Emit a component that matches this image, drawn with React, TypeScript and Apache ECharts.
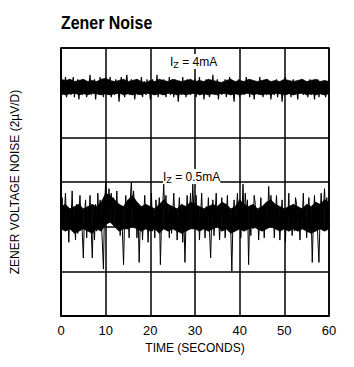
import React, { useEffect, useRef } from "react";
import * as echarts from "echarts";

const FONT = "'Liberation Sans', Arial, Helvetica, sans-serif";

const xTicks = [0, 10, 20, 30, 40, 50, 60];
const durationSec = 60;

// IZ = 4mA trace (µV, arbitrary offset), sampled every 0.25 s
const noise4mA = [
  10.6,9.9,10.5,10.0,10.7,9.8,10.4,10.1,10.6,9.9,10.3,10.7,9.8,10.4,10.0,10.6,9.7,10.3,10.5,9.9,10.6,10.1,10.4,9.8,
  10.5,10.2,10.8,9.9,10.4,10.0,10.6,9.7,10.3,10.5,9.9,10.7,10.1,10.4,9.8,10.5,10.0,10.6,9.9,10.3,10.7,9.8,10.2,10.5,
  9.9,10.6,10.1,10.4,9.6,10.3,10.7,10.0,10.5,9.8,10.4,10.8,10.0,10.3,9.9,10.6,10.1,10.5,9.7,10.2,10.6,9.9,10.4,10.0,
  10.7,9.8,10.3,10.5,9.9,10.6,10.0,10.4,9.7,10.2,10.6,9.9,10.5,10.1,10.8,9.8,10.3,10.0,10.5,9.9,10.6,10.2,9.8,10.4,
  10.0,10.7,9.9,10.3,10.5,9.8,10.6,10.1,10.4,9.6,10.2,10.5,9.9,10.7,10.0,10.3,9.8,10.6,10.1,10.4,9.9,10.5,10.0,10.3,
  10.6,9.8,10.4,10.0,10.7,9.9,10.2,10.5,9.7,10.3,10.6,10.0,10.4,9.8,10.5,10.1,10.8,9.9,10.3,10.0,10.6,9.7,10.4,10.2,
  9.9,10.5,10.1,10.6,9.8,10.3,10.0,10.7,9.9,10.4,10.2,9.6,10.5,10.0,10.3,10.6,9.8,10.4,10.1,10.5,9.9,10.3,10.7,10.0,
  10.4,9.8,10.6,10.0,10.3,9.7,10.5,10.1,10.4,9.9,10.7,10.0,10.3,9.8,10.5,10.2,9.9,10.6,10.0,10.4,9.7,10.3,10.5,9.9,
  10.2,10.6,9.8,10.4,10.0,10.5,9.6,10.3,10.1,10.7,9.9,10.4,10.0,10.5,9.8,10.3,10.6,9.9,10.2,10.4,9.7,10.5,10.0,10.3,
  10.6,9.9,10.4,10.0,10.5,9.8,10.3,10.6,9.9,10.2,10.5,9.7,10.4,10.0,10.6,9.8,10.3,10.5,9.9,10.4,10.1,9.8,10.5,10.2,10.0,
];

// IZ = 4mA dense-core envelope, one value per second (0..60 s)
const core4mATop = [
  10.6,10.55,10.6,10.5,10.55,10.6,10.5,10.55,10.5,10.6,
  10.65,10.55,10.5,10.55,10.6,10.5,10.55,10.6,10.5,10.45,
  10.55,10.5,10.6,10.55,10.5,10.6,10.55,10.5,10.55,10.6,
  10.5,10.55,10.5,10.6,10.55,10.5,10.45,10.55,10.6,10.5,
  10.55,10.5,10.6,10.55,10.5,10.55,10.6,10.5,10.55,10.5,
  10.6,10.55,10.5,10.55,10.6,10.5,10.55,10.6,10.5,10.55,
  10.5,
];
const core4mABottom = [
  9.95,9.9,9.95,10.0,9.9,9.95,9.9,10.0,9.95,9.9,
  9.95,9.9,9.95,10.0,9.9,9.95,9.9,9.95,9.9,10.0,
  9.95,9.9,9.95,9.9,10.0,9.95,9.9,9.95,9.9,9.95,
  10.0,9.9,9.95,9.9,9.95,9.9,10.0,9.95,9.9,9.95,
  9.9,9.95,10.0,9.9,9.95,9.9,9.95,9.9,10.0,9.95,
  9.9,9.95,9.9,9.95,10.0,9.9,9.95,9.9,9.95,9.9,
  9.95,
];

// IZ = 0.5mA trace (µV, arbitrary offset), sampled every 0.25 s
const noise05mA = [
  4.2,5.3,3.9,4.6,5.5,4.0,4.7,3.3,4.8,4.3,5.6,3.9,4.5,3.4,5.0,3.7,4.6,5.4,4.3,3.8,2.6,4.5,5.2,3.5,
  4.7,4.2,5.4,3.9,2.6,4.6,3.4,5.0,3.8,5.5,4.1,5.2,4.4,3.3,2.1,4.9,6.0,5.3,4.6,5.7,4.8,5.5,4.2,5.3,
  5.0,4.5,5.6,4.3,4.8,3.6,4.6,3.8,2.3,4.4,5.4,4.1,4.7,3.5,5.2,6.0,4.8,5.6,4.5,4.9,3.5,4.6,2.4,4.2,
  4.8,3.4,4.5,5.4,4.2,4.7,3.3,4.9,4.3,5.5,3.8,4.6,3.5,5.2,4.4,3.9,5.3,2.3,4.2,4.8,5.9,4.6,5.4,4.1,
  4.6,3.5,4.9,3.7,4.5,5.5,4.2,4.8,3.4,4.4,5.3,4.1,4.7,3.3,4.5,2.4,4.3,5.4,4.0,4.6,5.5,4.2,5.9,4.7,
  4.4,5.4,4.1,4.8,3.4,4.5,5.5,4.0,4.6,3.5,4.9,4.3,5.3,3.8,2.6,4.4,5.2,3.6,4.6,5.5,4.2,4.7,3.4,4.5,
  5.3,4.1,4.7,3.5,4.4,5.4,4.0,4.6,3.9,2.0,4.3,5.2,4.1,4.6,5.5,4.4,4.8,3.5,4.6,5.9,4.2,5.5,4.7,5.2,
  2.3,4.5,3.6,4.8,3.9,5.4,5.0,4.2,4.7,3.4,4.5,5.3,4.0,4.6,3.5,4.9,3.9,4.4,5.8,4.6,5.4,4.2,4.8,3.5,
  4.5,5.4,4.1,4.7,3.4,4.4,5.2,4.0,4.6,3.3,4.8,4.2,5.5,3.9,4.5,3.6,4.8,3.8,5.3,5.0,4.2,4.7,3.4,4.6,
  4.3,5.5,4.0,4.7,3.5,4.5,5.3,4.1,4.6,2.4,4.3,5.4,4.1,4.7,3.5,2.4,4.5,5.5,4.2,4.8,5.7,4.4,5.3,4.3,4.7,
];

// IZ = 0.5mA dense-core envelope, one value per second (0..60 s)
const core05mATop = [
  4.9,5.0,4.8,4.9,5.0,4.8,4.9,5.0,4.9,5.1,
  5.5,5.4,5.2,5.0,4.9,5.2,5.4,5.1,4.9,5.0,
  4.9,4.8,5.0,5.2,5.0,4.9,4.8,5.0,4.9,5.1,
  5.0,4.9,4.8,4.9,5.0,4.9,5.1,5.0,4.8,4.9,
  5.2,5.0,4.9,5.0,4.8,4.9,5.1,5.2,5.0,4.9,
  4.8,4.9,5.0,4.9,4.8,5.0,4.9,5.1,5.0,5.2,
  5.1,
];
const core05mABottom = [
  3.9,3.8,3.9,3.7,3.8,3.9,3.8,3.7,3.9,3.8,
  4.1,4.2,4.0,3.8,3.9,3.9,4.0,3.9,3.8,3.9,
  3.8,3.9,3.7,3.9,3.8,3.9,3.8,3.7,3.8,3.9,
  3.9,3.8,3.9,3.8,3.9,4.0,3.8,3.9,3.7,3.8,
  3.9,3.8,3.9,4.0,3.9,3.8,3.9,4.0,3.9,3.8,
  3.9,3.8,3.9,3.8,3.9,3.8,3.7,3.8,3.9,3.8,
  3.9,
];

const toPairs = (vals: number[]) => {
  const step = durationSec / (vals.length - 1);
  return vals.map((v, i) => [i * step, v]);
};

const bandSeries = (name: string, bottom: number[], top: number[]) => {
  const step = durationSec / (bottom.length - 1);
  const data = bottom.map((b, i) => [i * step, b, top[i]]);
  return {
    type: "custom",
    name,
    data,
    encode: { x: 0, y: [1, 2] },
    silent: true,
    z: 2,
    renderItem: (params: any, api: any) => {
      const i = params.dataIndex;
      if (i >= data.length - 1) return { type: "group", children: [] };
      const nx = data[i + 1];
      const t0 = api.value(0);
      const pts = [
        api.coord([t0, api.value(1)]),
        api.coord([t0, api.value(2)]),
        api.coord([nx[0], nx[2]]),
        api.coord([nx[0], nx[1]]),
      ];
      return {
        type: "polygon",
        shape: { points: pts },
        style: { fill: "#000", stroke: "#000", lineWidth: 0.6 },
      };
    },
  };
};

export default function App() {
  const ref = useRef<HTMLDivElement>(null);
  useEffect(() => {
    if (!ref.current) return;
    const chart = echarts.init(ref.current, undefined, { renderer: "svg" });
    const lineStyle = { color: "#000", width: 1.5 };
    const labelRich = {
      m: { fontSize: 12, fontFamily: FONT, color: "#000" },
      s: { fontSize: 9, fontFamily: FONT, color: "#000", padding: [6, 0, 0, 0] },
    };
    chart.setOption({
      animation: false,
      backgroundColor: "#fff",
      grid: {
        left: 61, top: 48, right: 25, bottom: 51,
        show: true, borderColor: "#000", borderWidth: 1.5,
      },
      xAxis: {
        type: "value",
        min: 0, max: 60, interval: 10,
        name: "TIME (SECONDS)",
        nameLocation: "middle",
        nameGap: 25,
        nameTextStyle: { fontFamily: FONT, fontSize: 12, color: "#000" },
        axisLine: { show: true, lineStyle },
        axisTick: { show: false },
        axisLabel: {
          fontFamily: FONT, fontSize: 13, color: "#000", margin: 8,
          formatter: (v: number) => (xTicks.includes(v) ? String(v) : ""),
        },
        splitLine: { show: true, lineStyle },
      },
      yAxis: {
        type: "value",
        min: 0, max: 12, interval: 2,
        name: "ZENER VOLTAGE NOISE (2\u00B5V/D)",
        nameLocation: "middle",
        nameGap: 40,
        nameTextStyle: { fontFamily: FONT, fontSize: 12, color: "#000" },
        axisLine: { show: true, lineStyle },
        axisTick: { show: false },
        axisLabel: { show: false },
        splitLine: { show: true, lineStyle },
      },
      series: [
        bandSeries("IZ = 4mA core", core4mABottom, core4mATop),
        bandSeries("IZ = 0.5mA core", core05mABottom, core05mATop),
        {
          type: "line",
          name: "IZ = 4mA",
          data: toPairs(noise4mA),
          showSymbol: false,
          symbol: "none",
          lineStyle: { color: "#000", width: 1.2 },
          z: 3,
        },
        {
          type: "line",
          name: "IZ = 0.5mA",
          data: toPairs(noise05mA),
          showSymbol: false,
          symbol: "none",
          lineStyle: { color: "#000", width: 1.0 },
          z: 3,
        },
      ],
      graphic: [
        {
          type: "text",
          x: 61,
          y: 13,
          scaleX: 0.84,
          z: 100,
          style: {
            text: "Zener Noise",
            fontFamily: FONT,
            fontWeight: "bold",
            fontSize: 19,
            fill: "#000",
          },
        },
        {
          type: "text",
          left: 170,
          top: 54,
          z: 100,
          style: {
            text: "{m|I}{s|Z}{m| = 4mA}",
            rich: labelRich,
            backgroundColor: "#fff",
          },
        },
        {
          type: "text",
          left: 163,
          top: 169,
          z: 100,
          style: {
            text: "{m|I}{s|Z}{m| = 0.5mA}",
            rich: labelRich,
            backgroundColor: "#fff",
          },
        },
      ],
    });
    return () => chart.dispose();
  }, []);
  return (
    <div
      ref={ref}
      style={{ position: "fixed", left: 0, top: 0, width: 354, height: 367, background: "#fff" }}
    />
  );
}
